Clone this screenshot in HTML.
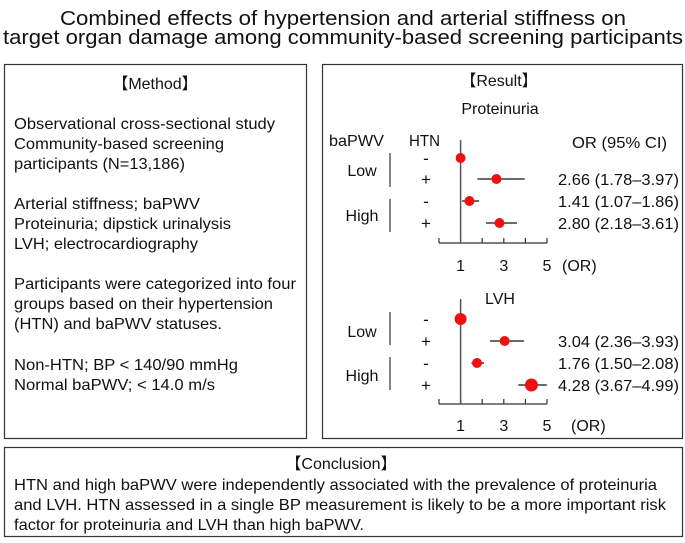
<!DOCTYPE html>
<html><head><meta charset="utf-8"><style>
html,body{margin:0;padding:0;background:#fff}
svg, svg text{font-family:"Liberation Sans","Noto Sans CJK JP",sans-serif}
</style></head><body>
<svg id="chart" width="685" height="538" viewBox="0 0 685 538" xmlns="http://www.w3.org/2000/svg" font-family="Liberation Sans, Noto Sans CJK JP, sans-serif">
<g fill="#111">
<text x="343" y="25" font-size="20.5" text-anchor="middle" textLength="566" lengthAdjust="spacingAndGlyphs">Combined effects of hypertension and arterial stiffness on</text>
<text x="343" y="44" font-size="20.5" text-anchor="middle" textLength="680" lengthAdjust="spacingAndGlyphs">target organ damage among community-based screening participants</text>
</g>
<rect x="4.5" y="64.5" width="302" height="374" fill="none" stroke="#333" stroke-width="1.2"/>
<rect x="322.5" y="64.5" width="360" height="374" fill="none" stroke="#333" stroke-width="1.2"/>
<rect x="4.5" y="447.5" width="678" height="89" fill="none" stroke="#333" stroke-width="1.2"/>
<g fill="#111" font-size="16">
<text x="155" y="89" text-anchor="middle">【Method】</text>
<text x="14" y="129" textLength="261" lengthAdjust="spacingAndGlyphs">Observational cross-sectional study</text>
<text x="14" y="149" textLength="210" lengthAdjust="spacingAndGlyphs">Community-based screening</text>
<text x="14" y="169" textLength="171" lengthAdjust="spacingAndGlyphs">participants (N=13,186)</text>
<text x="14" y="209" textLength="186" lengthAdjust="spacingAndGlyphs">Arterial stiffness; baPWV</text>
<text x="14" y="229" textLength="217" lengthAdjust="spacingAndGlyphs">Proteinuria; dipstick urinalysis</text>
<text x="14" y="249" textLength="184" lengthAdjust="spacingAndGlyphs">LVH; electrocardiography</text>
<text x="14" y="289" textLength="282" lengthAdjust="spacingAndGlyphs">Participants were categorized into four</text>
<text x="14" y="309" textLength="259" lengthAdjust="spacingAndGlyphs">groups based on their hypertension</text>
<text x="14" y="329" textLength="208" lengthAdjust="spacingAndGlyphs">(HTN) and baPWV statuses.</text>
<text x="14" y="370" textLength="224" lengthAdjust="spacingAndGlyphs">Non-HTN; BP &lt; 140/90 mmHg</text>
<text x="14" y="390" textLength="201" lengthAdjust="spacingAndGlyphs">Normal baPWV; &lt; 14.0 m/s</text>
</g>
<g fill="#111" font-size="16">
<text x="341" y="469" text-anchor="middle">【Conclusion】</text>
<text x="14" y="490" textLength="643" lengthAdjust="spacingAndGlyphs">HTN and high baPWV were independently associated with the prevalence of proteinuria</text>
<text x="14" y="510" textLength="652" lengthAdjust="spacingAndGlyphs">and LVH. HTN assessed in a single BP measurement is likely to be a more important risk</text>
<text x="14" y="530" textLength="350" lengthAdjust="spacingAndGlyphs">factor for proteinuria and LVH than high baPWV.</text>
</g>
<g fill="#111" font-size="16">
<text x="499" y="86" text-anchor="middle">【Result】</text>
<text x="329" y="146" textLength="55" lengthAdjust="spacingAndGlyphs">baPWV</text>
<text x="409" y="146" textLength="31" lengthAdjust="spacingAndGlyphs">HTN</text>
<text x="572" y="148" textLength="95" lengthAdjust="spacingAndGlyphs">OR (95% CI)</text>
</g>
<g id="forest"></g>
</svg>
<script>
const groups = ["Proteinuria", "LVH"];
const protOR = [1, 2.66, 1.41, 2.80];
const protLo = [1, 1.78, 1.07, 2.18];
const protHi = [1, 3.97, 1.86, 3.61];
const lvhOR = [1, 3.04, 1.76, 4.28];
const lvhLo = [1, 2.36, 1.50, 3.67];
const lvhHi = [1, 3.93, 2.08, 4.99];
const ticks = [0, 1, 2, 3, 4, 5];
const tickLabels = ["1", "3", "5"];
const tickLabelVals = [1, 3, 5];
const rowLabels = ["-", "+", "-", "+"];
const ns = "http://www.w3.org/2000/svg";
const g = document.getElementById('forest');
const xS = v => 439 + v * 21.6;
function mk(tag, attrs, parent, txt) {
  const e = document.createElementNS(ns, tag);
  for (const k in attrs) e.setAttribute(k, attrs[k]);
  if (txt !== undefined) e.textContent = txt;
  (parent || g).appendChild(e);
  return e;
}
const panels = [
  {name: groups[0], or: protOR, lo: protLo, hi: protHi, top: 108, vTop: 140, rows: [158,179,201,223], axis: 243, tl: 271, orx: 562, r: [5,5,5,5], br: [[153,187],[199,232]], lab: [170,215]},
  {name: groups[1], or: lvhOR, lo: lvhLo, hi: lvhHi, top: 298, vTop: 299, rows: [319,341,363,385], axis: 404, tl: 431, orx: 571, r: [6,5,5,6.5], br: [[312,345],[357,390]], lab: [331,375]}
];
panels.forEach((p, pi) => {
  const pg = mk('g', {});
  
  
  const t = mk('text', {x: 500, y: p.top + 6, 'text-anchor': 'middle', 'font-size': 16, fill: '#111'}, pg, p.name);
  
  
  ["Low", "High"].forEach((s, i) => {
    const l = mk('text', {x: 362, y: p.lab[i] + 6, 'text-anchor': 'middle', 'font-size': 16, fill: '#111'}, pg, s);
    
    
    const b = mk('line', {x1: 390, x2: 390, y1: p.br[i][0], y2: p.br[i][1], stroke: '#333', 'stroke-width': 1.2}, pg);
    
    
  });
  const ax = mk('line', {x1: xS(0), x2: xS(5), y1: p.axis, y2: p.axis, stroke: '#333', 'stroke-width': 1.2}, pg);
  
  
  ticks.forEach(v => {
    const tk = mk('line', {x1: xS(v), x2: xS(v), y1: p.axis - 5, y2: p.axis, stroke: '#333', 'stroke-width': 1.2}, pg);
    
    
  });
  tickLabelVals.forEach((v, i) => {
    const tl = mk('text', {x: xS(v), y: p.tl, 'text-anchor': 'middle', 'font-size': 16, fill: '#111'}, pg, tickLabels[i]);
    
    
  });
  const u = mk('text', {x: p.orx, y: p.tl, 'font-size': 16, fill: '#111'}, pg, '(OR)');
  
  
  const ref = mk('line', {x1: xS(1), x2: xS(1), y1: p.vTop, y2: p.axis, stroke: '#555', 'stroke-width': 1.5}, pg);
  
  
  p.or.forEach((v, i) => {
    const y = p.rows[i];
    const hl = mk('text', {x: 426, y: y + 6, 'text-anchor': 'middle', 'font-size': 17, fill: '#111'}, pg, rowLabels[i]);
    
    
    if (p.hi[i] !== p.lo[i]) {
      const ci = mk('line', {x1: xS(p.lo[i]), x2: xS(p.hi[i]), y1: y, y2: y, stroke: '#111', 'stroke-width': 1.3}, pg);
      
      
      const txt = v.toFixed(2) + ' (' + p.lo[i].toFixed(2) + '\u2013' + p.hi[i].toFixed(2) + ')';
      const ot = mk('text', {x: 558, y: y + 6, 'font-size': 16, fill: '#111', textLength: 121, lengthAdjust: 'spacingAndGlyphs'}, pg, txt);
      
      
    }
    const c = mk('circle', {cx: xS(v), cy: y, r: p.r[i], fill: '#f01010'}, pg);
    
    
  });
});
</script>
</body></html>
